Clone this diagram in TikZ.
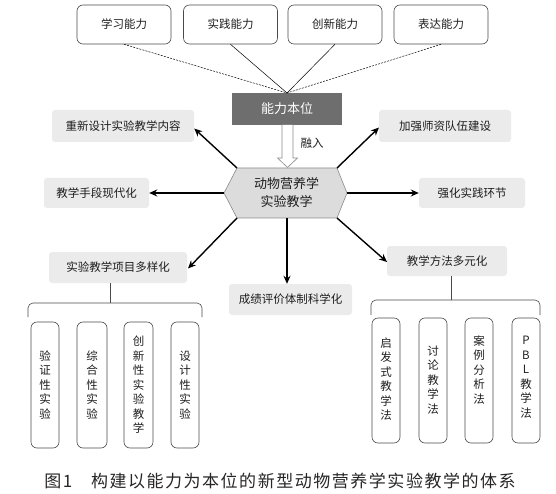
\documentclass[tikz,border=0pt]{standalone}
\usepackage{fontspec}
\setmainfont{Noto Sans CJK SC}
\usetikzlibrary{arrows.meta}
\definecolor{lgray}{HTML}{EBEBEB}
\definecolor{dgray}{HTML}{6E6E6E}
\definecolor{hexfill}{HTML}{DCDCDC}
\definecolor{hexline}{HTML}{8A8A8A}
\definecolor{boxline}{HTML}{4A4A4A}
\definecolor{txt}{HTML}{1E1E1E}
\tikzset{
  topbox/.style={draw=boxline, line width=0.6pt, rounded corners=6pt, minimum width=94pt, minimum height=39pt, inner sep=0pt, font=\fontsize{11.5}{13}\selectfont, text=txt},
  graybox/.style={fill=lgray, rounded corners=3pt, minimum height=31pt, inner sep=0pt, font=\fontsize{11.5}{13}\selectfont, text=txt},
  vbox/.style={draw=boxline, line width=0.6pt, rounded corners=6pt, minimum width=28pt, minimum height=126pt, inner sep=0pt},
  vtext/.style={align=center, inner sep=0pt, font=\fontsize{11.5}{14.5}\selectfont, text=txt},
  outarrow/.style={line width=1.4pt, -{Stealth[length=8pt,width=7pt]}},
  dashlink/.style={line width=0.5pt, dash pattern=on 2pt off 1.2pt},
  thinlink/.style={line width=0.5pt},
  bracket/.style={line width=0.6pt, draw=boxline}
}
\begin{document}
\begin{tikzpicture}[x=1pt,y=-1pt]
\useasboundingbox (0,0) rectangle (556,494);
% top ability boxes
\node[topbox] (a1) at (124,24.5) {学习能力};
\node[topbox] (a2) at (230.5,24.5) {实践能力};
\node[topbox] (a3) at (335,24.5) {创新能力};
\node[topbox] (a4) at (441,24.5) {表达能力};
% ability-based box
\node[fill=dgray, minimum width=110pt, minimum height=32pt, inner sep=0pt, text=white, font=\fontsize{13}{15}\selectfont] (nl) at (287,109) {能力本位};
\coordinate (conv) at (287,93);
\draw[dashlink] (a1.south) -- (conv);
\draw[thinlink] (a2.south) -- (conv);
\draw[thinlink] (a3.south) -- (conv);
\draw[dashlink] (a4.south) -- (conv);
% hollow arrow
\draw[draw=hexline, fill=white, line width=0.6pt] (282,125) -- (282,158) -- (277.5,158) -- (287.5,167.5) -- (297.5,158) -- (293,158) -- (293,125);
\node[font=\fontsize{11.5}{13}\selectfont, text=txt] (rr) at (312,143) {融入};
% hexagon
\coordinate (hL) at (224,193);
\coordinate (hTL) at (237,168);
\coordinate (hTR) at (337,168);
\coordinate (hR) at (347,193);
\coordinate (hBR) at (337,218);
\coordinate (hBL) at (237,218);
\coordinate (hB) at (287,218);
\draw[fill=hexfill, draw=hexline, line width=0.6pt] (hL) -- (hTL) -- (hTR) -- (hR) -- (hBR) -- (hBL) -- cycle;
\node[align=center, font=\fontsize{13}{18}\selectfont, text=txt, inner sep=0pt] (hex) at (286.5,193) {动物营养学\\实验教学};
% satellite boxes
\node[graybox, minimum width=142pt, minimum height=32pt] (s1) at (123,126) {重新设计实验教学内容};
\node[graybox, minimum width=132pt, minimum height=32pt] (s2) at (445,126) {加强师资队伍建设};
\node[graybox, minimum width=105pt, minimum height=30pt] (s3) at (96.5,193) {教学手段现代化};
\node[graybox, minimum width=106pt, minimum height=30pt] (s4) at (472,193) {强化实践环节};
\node[graybox, minimum width=138pt] (s5) at (118,267.5) {实验教学项目多样化};
\node[graybox, minimum width=120pt, minimum height=30pt] (s6) at (447,261) {教学方法多元化};
\node[graybox, minimum width=123pt] (s7) at (290.5,299.5) {成绩评价体制科学化};
% arrows
\draw[outarrow] (hTL) -- (s1.east |- 0,128.5);
\draw[outarrow] (hL) -- (s3.east);
\draw[outarrow] (hBL) -- (188,268.5);
\draw[outarrow] (hB) -- (s7.north -| hB);
\draw[outarrow] (hBR) -- (387,262);
\draw[outarrow] (hR) -- (s4.west);
\draw[outarrow] (hTR) -- (379,127.5);
% left bracket
\draw[bracket] (s5.south -| 110,0) -- (110,303);
\draw[bracket, rounded corners=5pt] (28,317) -- (28,303) -- (202,303) -- (202,317);
% right bracket
\draw[bracket] (s6.south -| 451,0) -- (451,300);
\draw[bracket, rounded corners=5pt] (371,315) -- (371,300) -- (540,300) -- (540,315);
% left vertical boxes
\node[vbox] (l1) at (45,385) {};
\node[vbox, minimum width=30pt] (l2) at (92,385) {};
\node[vbox, minimum width=29pt] (l3) at (138.5,385) {};
\node[vbox] (l4) at (185,385) {};
\node[vtext] (t1) at (45,385) {验\\证\\性\\实\\验};
\node[vtext] (t2) at (92,385) {综\\合\\性\\实\\验};
\node[vtext] (t3) at (138.5,385) {创\\新\\性\\实\\验\\教\\学};
\node[vtext] (t4) at (185,385) {设\\计\\性\\实\\验};
% right vertical boxes
\node[vbox, minimum height=125pt] (r1) at (386,380.5) {};
\node[vbox, minimum height=125pt] (r2) at (433,380.5) {};
\node[vbox, minimum height=125pt] (r3) at (479,380.5) {};
\node[vbox, minimum height=125pt] (r4) at (526,380.5) {};
\node[vtext] (u1) at (386,379) {启\\发\\式\\教\\学\\法};
\node[vtext] (u2) at (433,380) {讨\\论\\教\\学\\法};
\node[vtext] (u3) at (479,370) {案\\例\\分\\析\\法};
\node[vtext] (u4) at (526,377) {P\\B\\L\\教\\学\\法};
% caption
\node[font=\fontsize{17}{19}\selectfont\addfontfeature{LetterSpace=9}, text=black!85] (cap) at (280,481) {图1\hspace{1.1em}构建以能力为本位的新型动物营养学实验教学的体系};
\end{tikzpicture}
\end{document}
